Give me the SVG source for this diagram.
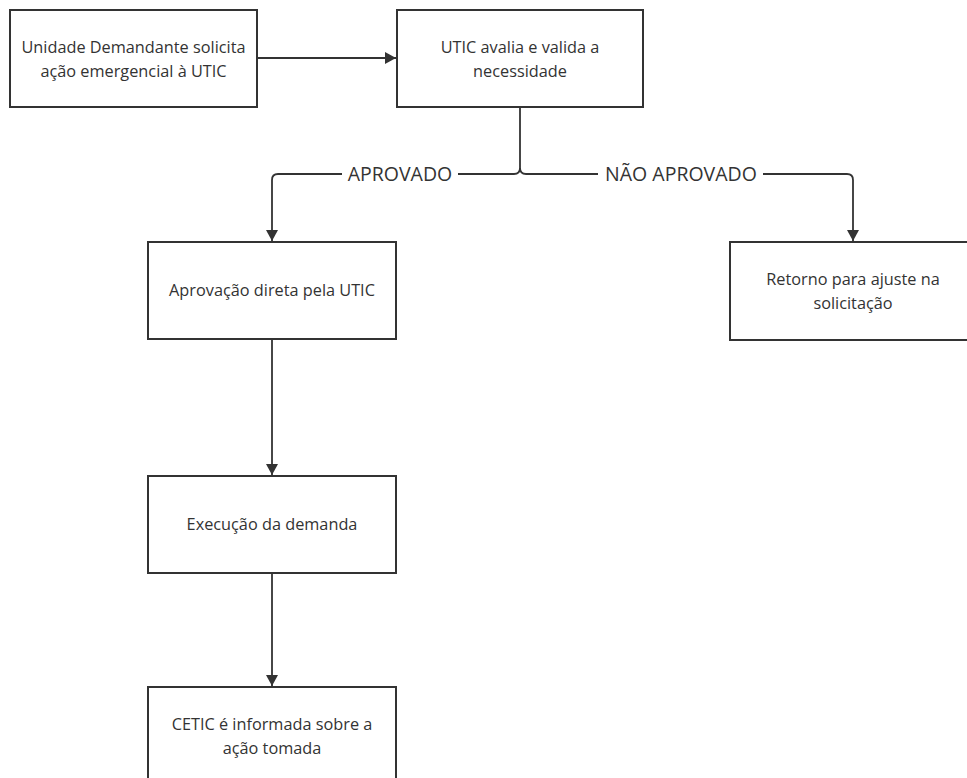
<svg xmlns="http://www.w3.org/2000/svg" width="967" height="778" viewBox="0 0 967 778">
<style>
.box{fill:#fff;stroke:#333;stroke-width:2}
.t{font-family:"Open Sans","Noto Sans","Liberation Sans",sans-serif;font-size:16.3px;fill:#333;text-anchor:middle}
.lbl{font-family:"Open Sans","Noto Sans","Liberation Sans",sans-serif;font-size:19.5px;fill:#333;text-anchor:middle}
.c{fill:none;stroke:#333;stroke-width:1.8}
</style>
<defs>
<marker id="ah" markerWidth="14" markerHeight="14" refX="11" refY="6" orient="auto" markerUnits="userSpaceOnUse">
<path d="M0,0 L11,6 L0,12 Z" fill="#333"/>
</marker>
</defs>
<rect width="967" height="778" fill="#fff"/>
<g id="connectors">
<path class="c" d="M257,58 H396" marker-end="url(#ah)"/>
<path class="c" d="M520,107 V168 Q520,174 514,174 H458"/>
<path class="c" d="M342,174 H278 Q272,174 272,180 V241" marker-end="url(#ah)"/>
<path class="c" d="M520,168 Q520,174 526,174 H598"/>
<path class="c" d="M763,174 H847 Q853,174 853,180 V241" marker-end="url(#ah)"/>
<path class="c" d="M272,339 V475" marker-end="url(#ah)"/>
<path class="c" d="M272,573 V686" marker-end="url(#ah)"/>
<text class="lbl" x="400" y="181">APROVADO</text>
<text class="lbl" x="681" y="181">NÃO APROVADO</text>
</g>
<g id="n1">
<rect class="box" x="10" y="10" width="247" height="97"/>
<text class="t" x="133.5" y="53">Unidade Demandante solicita</text>
<text class="t" x="133.5" y="77">ação emergencial à UTIC</text>
</g>
<g id="n2">
<rect class="box" x="397" y="10" width="246" height="97"/>
<text class="t" x="520" y="53">UTIC avalia e valida a</text>
<text class="t" x="520" y="77">necessidade</text>
</g>
<g id="n3">
<rect class="box" x="148" y="242" width="248" height="97"/>
<text class="t" x="272" y="296">Aprovação direta pela UTIC</text>
</g>
<g id="n4">
<rect class="box" x="730" y="242" width="247" height="98"/>
<text class="t" x="853" y="285">Retorno para ajuste na</text>
<text class="t" x="853" y="309">solicitação</text>
</g>
<g id="n5">
<rect class="box" x="148" y="476" width="248" height="97"/>
<text class="t" x="272" y="530">Execução da demanda</text>
</g>
<g id="n6">
<rect class="box" x="148" y="687" width="248" height="97"/>
<text class="t" x="272" y="730">CETIC é informada sobre a</text>
<text class="t" x="272" y="754">ação tomada</text>
</g>
</svg>
